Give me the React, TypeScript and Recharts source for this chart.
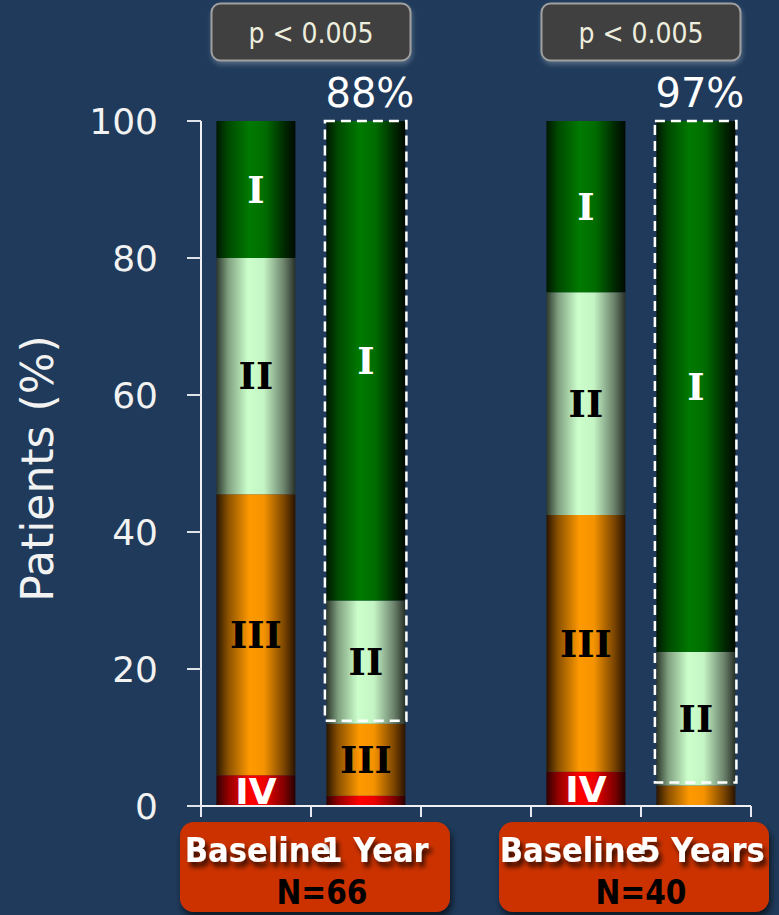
import React from "react";
import { BarChart, Bar, XAxis, YAxis, LabelList } from "recharts";

// ---- data ----
const categories = ["Baseline", "1 Year", "", "Baseline", "5 Years"];
const classIV = [4.5, 1.5, null, 5, 0];
const classIII = [41, 10.5, null, 37.5, 3];
const classII = [34.5, 18, null, 32.5, 19.5];
const classI = [20, 70, null, 25, 77.5];
const improvedLabels = ["", "88%", "", "", "97%"];
const groupN = ["N=66", "", "", "N=40", ""];
const pValues = ["", "p < 0.005", "", "", "p < 0.005"];
const yTicks = [0, 20, 40, 60, 80, 100];

const data = categories.map((c, i) => ({
  cat: c,
  IV: classIV[i],
  III: classIII[i],
  II: classII[i],
  I: classI[i],
  improved: improvedLabels[i],
}));

// ---- layout / style ----
const W = 779;
const H = 915;
const TOP = 121;
const XAXIS_H = 109;
const YAXIS_W = 201;
const RIGHT = 28;
const AXIS_Y = H - XAXIS_H;
const BG = "#1f3a5a";
const SANS = "'DejaVu Sans', Verdana, sans-serif";
const COND = "'DejaVu Sans Condensed', 'DejaVu Sans', sans-serif";
const SERIF = "'DejaVu Serif', serif";
const labelDx = [2, 9, 0, -13, 6];
const groupBoxDx: Record<number, number> = { 0: -76, 3: -87 };

const segLabel = (roman: string, color: string, family: string, size: number) => (p: any) => {
  const { x, y, width, height, value } = p;
  if (value == null || Math.abs(height) < 25) return null;
  const cy = y + height / 2 + size * 0.36;
  return (
    <text
      x={x + width / 2}
      y={cy}
      textAnchor="middle"
      fill={color}
      fontFamily={family}
      fontWeight="bold"
      fontSize={size}
    >
      {roman}
    </text>
  );
};

const pctLabel = (p: any) => {
  const { x, y, width, value } = p;
  if (!value) return null;
  return (
    <text x={x + width / 2 + 4} y={y - 14} textAnchor="middle" fill="#ffffff" fontFamily={SANS} fontSize={40}>
      {value}
    </text>
  );
};

const ShapeI = (props: any) => {
  const { x, y, width, height, payload, fill } = props;
  if (height == null || width == null) return null;
  const els: any[] = [<rect key="r" x={x} y={y} width={width} height={height} fill={fill} />];
  if (payload && payload.improved) {
    const unit = height / payload.I;
    const bottom = y + height + payload.II * unit - 3;
    els.push(
      <rect
        key="d"
        x={x - 1.5}
        y={y}
        width={width + 2.5}
        height={bottom - y}
        fill="none"
        stroke="#ffffff"
        strokeWidth={2.5}
        strokeDasharray="10 6"
      />
    );
  }
  return <g>{els}</g>;
};

const XTick = (props: any) => {
  const { payload } = props;
  const i = payload.index;
  const c = payload.coordinate;
  const half = payload.offset || 55;
  const els: any[] = [];
  els.push(<line key="t" x1={c - half} x2={c - half} y1={AXIS_Y} y2={AXIS_Y + 11} stroke="#e8e8f0" strokeWidth={2} />);
  if (i === categories.length - 1)
    els.push(<line key="t2" x1={c + half} x2={c + half} y1={AXIS_Y} y2={AXIS_Y + 11} stroke="#e8e8f0" strokeWidth={2} />);
  if (groupBoxDx[i] !== undefined) {
    const bx = c + groupBoxDx[i];
    els.push(
      <rect key="gb" x={bx} y={822} width={270} height={90} rx={14} fill="#cc3300" filter="url(#boxShadow)" />
    );
    els.push(
      <text key="n" x={bx + 142} y={904} textAnchor="middle" fill="#000" fontFamily={COND} fontWeight="bold" fontSize={33}>
        {groupN[i]}
      </text>
    );
  }
  if (categories[i]) {
    els.push(
      <text
        key="l"
        x={c + labelDx[i]}
        y={862}
        textAnchor="middle"
        fill="#ffffff"
        fontFamily={COND}
        fontWeight="bold"
        fontSize={34}
        filter="url(#txtShadow)"
      >
        {categories[i]}
      </text>
    );
  }
  if (pValues[i]) {
    const cx = c - half;
    els.push(
      <g key="p">
        <rect x={cx - 99.5} y={3.5} width={199} height={57} rx={9} fill="#414141" stroke="#a0a0a0" strokeWidth={2} filter="url(#pShadow)" />
        <text x={cx} y={43} textAnchor="middle" fill="#eeeede" fontFamily={COND} fontSize={28}>
          {pValues[i]}
        </text>
      </g>
    );
  }
  return <g>{els}</g>;
};

const YLabel = (p: any) => {
  const vb = p.viewBox || { y: TOP, height: AXIS_Y - TOP };
  const cy = vb.y + vb.height / 2 + 5;
  return (
    <text
      x={53}
      y={cy}
      transform={`rotate(-90 53 ${cy})`}
      textAnchor="middle"
      fill="#f2f2f2"
      fontFamily={SANS}
      fontSize={44}
    >
      Patients (%)
    </text>
  );
};

const grad = (id: string, stops: [number, string][]) => (
  <linearGradient id={id} x1="0" y1="0" x2="1" y2="0">
    {stops.map(([o, c], k) => (
      <stop key={k} offset={o} stopColor={c} />
    ))}
  </linearGradient>
);

export default function App() {
  return (
    <div style={{ position: "absolute", left: 0, top: 0, width: W, height: H, background: BG }}>
      <svg width={0} height={0} style={{ position: "absolute" }}>
        <defs>
          {grad("gGreen", [
            [0, "#001800"],
            [0.15, "#004a00"],
            [0.42, "#007a00"],
            [0.62, "#006c00"],
            [0.88, "#002400"],
            [1, "#000a00"],
          ])}
          {grad("gLight", [
            [0, "#2c382c"],
            [0.15, "#80a080"],
            [0.4, "#ccffcc"],
            [0.6, "#c4f4c4"],
            [0.86, "#6a806a"],
            [1, "#283028"],
          ])}
          {grad("gOrange", [
            [0, "#2a1500"],
            [0.15, "#8c5200"],
            [0.42, "#ff9900"],
            [0.6, "#f59300"],
            [0.86, "#7a4400"],
            [1, "#2a1400"],
          ])}
          {grad("gRed", [
            [0, "#300000"],
            [0.15, "#940000"],
            [0.42, "#ff0000"],
            [0.6, "#f00000"],
            [0.86, "#800000"],
            [1, "#250000"],
          ])}
          <filter id="txtShadow" x="-20%" y="-40%" width="140%" height="200%">
            <feDropShadow dx="3" dy="5" stdDeviation="2.5" floodColor="#000" floodOpacity="0.75" />
          </filter>
          <filter id="boxShadow" x="-10%" y="-20%" width="130%" height="150%">
            <feDropShadow dx="2" dy="5" stdDeviation="3" floodColor="#000" floodOpacity="0.6" />
          </filter>
          <filter id="pShadow" x="-10%" y="-20%" width="130%" height="150%">
            <feDropShadow dx="1" dy="3" stdDeviation="2.5" floodColor="#8899aa" floodOpacity="0.5" />
          </filter>
        </defs>
      </svg>
      <BarChart
        width={W}
        height={H}
        data={data}
        margin={{ top: TOP, right: RIGHT, bottom: 0, left: 0 }}
        barCategoryGap="14%"
      >
        <XAxis
          dataKey="cat"
          interval={0}
          height={XAXIS_H}
          tickLine={false}
          axisLine={{ stroke: "#eef0f4", strokeWidth: 2 }}
          tick={XTick}
        />
        <YAxis
          type="number"
          domain={[0, 100]}
          ticks={yTicks}
          width={YAXIS_W}
          tickSize={14}
          tickMargin={29}
          axisLine={{ stroke: "#eef0f4", strokeWidth: 2 }}
          tickLine={{ stroke: "#e0e2ea", strokeWidth: 2 }}
          tick={{ fill: "#f2f2f2", fontSize: 36, fontFamily: SANS }}
          label={YLabel}
        />
        <Bar dataKey="IV" stackId="a" fill="url(#gRed)" isAnimationActive={false}>
          <LabelList dataKey="IV" content={segLabel("IV", "#ffffff", SANS, 36)} />
        </Bar>
        <Bar dataKey="III" stackId="a" fill="url(#gOrange)" isAnimationActive={false}>
          <LabelList dataKey="III" content={segLabel("III", "#000000", SERIF, 37)} />
        </Bar>
        <Bar dataKey="II" stackId="a" fill="url(#gLight)" isAnimationActive={false}>
          <LabelList dataKey="II" content={segLabel("II", "#000000", SERIF, 37)} />
        </Bar>
        <Bar dataKey="I" stackId="a" fill="url(#gGreen)" shape={ShapeI} isAnimationActive={false}>
          <LabelList dataKey="I" content={segLabel("I", "#ffffff", SERIF, 37)} />
          <LabelList dataKey="improved" content={pctLabel} />
        </Bar>
      </BarChart>
    </div>
  );
}
